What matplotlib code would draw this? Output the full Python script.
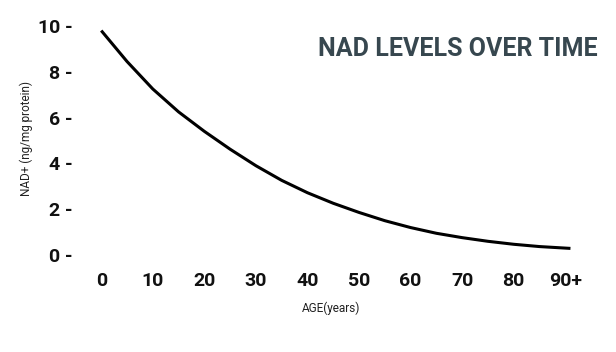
import matplotlib
matplotlib.use("Agg")
import matplotlib.pyplot as plt

# NAD+ level
ages = [0, 5, 10, 15, 20, 25, 30, 35, 40, 45, 50, 55, 60, 65, 70, 75, 80, 85, 91]
nad = [9.8, 8.45, 7.25, 6.25, 5.4, 4.62, 3.9, 3.26, 2.72, 2.26, 1.86, 1.5,
       1.2, 0.95, 0.76, 0.6, 0.47, 0.37, 0.29]

x_ticks = [0, 10, 20, 30, 40, 50, 60, 70, 80, 90]
x_tick_labels = ["0", "10", "20", "30", "40", "50", "60", "70", "80", "90+"]
y_ticks = [0, 2, 4, 6, 8, 10]
y_tick_labels = ["0 -", "2 -", "4 -", "6 -", "8 -", "10 -"]

plt.rcParams["font.family"] = ["Roboto", "DejaVu Sans"]

fig = plt.figure(figsize=(6.16, 3.52), dpi=100)
ax = fig.add_axes([0.1476, 0.2429, 0.7952, 0.7158])

# 主曲线
ax.plot(ages, nad, color="#000000", linewidth=2.2,
        solid_capstyle="butt", solid_joinstyle="round")

ax.set_xlim(-2, 93)
ax.set_ylim(-0.5, 10.5)

ax.set_xticks(x_ticks)
ax.set_xticklabels(x_tick_labels, fontsize=14, fontweight="bold", color="#111111")
ax.set_yticks(y_ticks)
ax.set_yticklabels(y_tick_labels, fontsize=14, fontweight="bold", color="#111111")
ax.tick_params(axis="both", length=0)
ax.tick_params(axis="x", pad=4)
ax.tick_params(axis="y", pad=13)

for side in ["top", "right", "bottom", "left"]:
    ax.spines[side].set_visible(False)

# 标题与轴标签
fig.text(598 / 616, 1 - 49 / 352, "NAD LEVELS OVER TIME", fontsize=18,
         fontweight="bold", color="#37474F", ha="right", va="center")
fig.text(26 / 616, 1 - 138 / 352, "NAD+ (ng/mg protein)", fontsize=8.5,
         color="#222222", rotation=90, ha="center", va="center")
fig.text(331 / 616, 1 - 308 / 352, "AGE(years)", fontsize=8.5,
         color="#222222", ha="center", va="center")

fig.savefig("out.png", dpi=100)
plt.close(fig)
